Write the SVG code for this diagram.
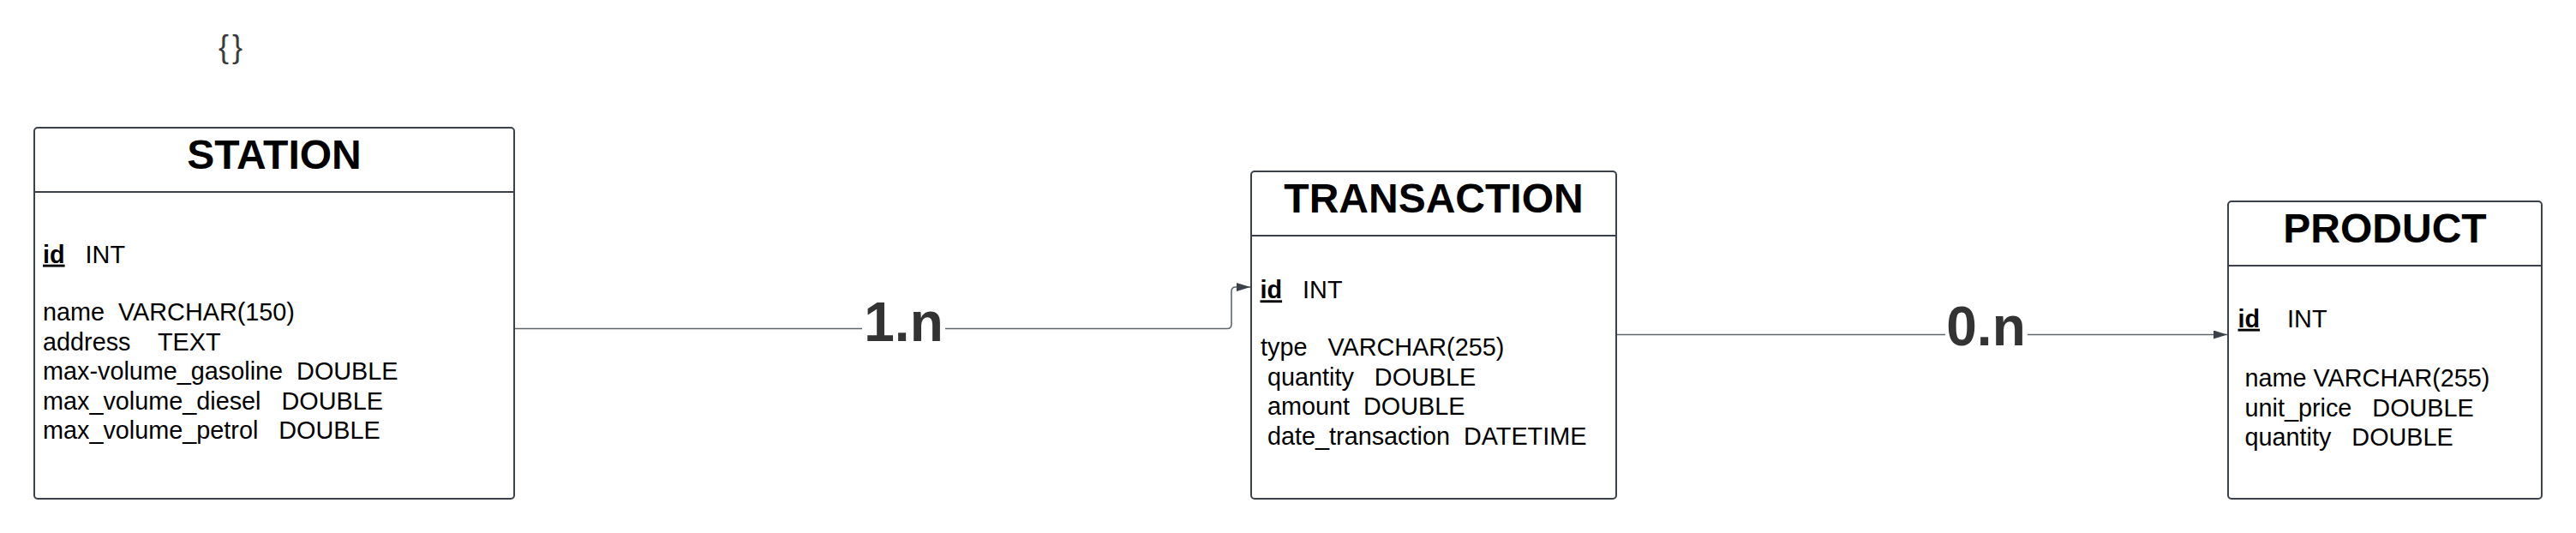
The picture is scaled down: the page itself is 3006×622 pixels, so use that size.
<svg xmlns="http://www.w3.org/2000/svg" width="3006" height="622" viewBox="0 0 3006 622">
  <style>
    .box { fill: #ffffff; stroke: #3a414a; stroke-width: 2; }
    .div { stroke: #3a414a; stroke-width: 2; }
    .title { font-family: "Liberation Sans", Arial, sans-serif; font-size: 48px; font-weight: bold; fill: #000000; text-anchor: middle; }
    .field { font-family: "Liberation Sans", Arial, sans-serif; font-size: 28.8px; fill: #000000; }
    .pk { font-weight: bold; text-decoration: underline; }
    .conn { fill: none; stroke: #5f656c; stroke-width: 1.6; }
    .card { font-family: "Liberation Sans", Arial, sans-serif; font-size: 64px; font-weight: bold; fill: #333333; text-anchor: middle; }
    .brace { font-family: "Liberation Sans", Arial, sans-serif; font-size: 36px; fill: #3a3a3a; }
  </style>
  <defs>
    <marker id="arrow" markerUnits="userSpaceOnUse" markerWidth="17" markerHeight="11" refX="16" refY="5" orient="auto">
      <path d="M0,0 L16,5 L0,10 z" fill="#3a414a"/>
    </marker>
  </defs>
  <rect width="3006" height="622" fill="#ffffff"/>

  <text class="brace" x="255" y="66.5" letter-spacing="4">{}</text>

  <g id="connectors">
    <path class="conn" d="M601,383.5 H1432 Q1437,383.5 1437,378.5 V340 Q1437,335 1442,335 H1459" marker-end="url(#arrow)"/>
    <path class="conn" d="M1887,390.5 H2599" marker-end="url(#arrow)"/>
    <rect x="1006" y="345" width="97" height="60" fill="#ffffff"/>
    <text class="card" x="1054.5" y="397.5">1.n</text>
    <rect x="2270" y="350" width="96" height="60" fill="#ffffff"/>
    <text class="card" x="2317.5" y="403.3">0.n</text>
  </g>

  <g id="station">
    <rect class="box" x="40" y="149" width="560" height="433" rx="4" ry="4"/>
    <line class="div" x1="40" y1="224" x2="600" y2="224"/>
    <text class="title" x="320" y="197">STATION</text>
    <text class="field" x="50" y="306.7" xml:space="preserve"><tspan class="pk">id</tspan>   INT</text>
    <text class="field" x="50" y="374" xml:space="preserve">name  VARCHAR(150)</text>
    <text class="field" x="50" y="408.6" xml:space="preserve">address    TEXT</text>
    <text class="field" x="50" y="443.2" xml:space="preserve">max-volume_gasoline  DOUBLE</text>
    <text class="field" x="50" y="477.8" xml:space="preserve">max_volume_diesel   DOUBLE</text>
    <text class="field" x="50" y="512.4" xml:space="preserve">max_volume_petrol   DOUBLE</text>
  </g>

  <g id="transaction">
    <rect class="box" x="1460" y="200" width="426" height="382" rx="4" ry="4"/>
    <line class="div" x1="1460" y1="275" x2="1886" y2="275"/>
    <text class="title" x="1673" y="247.7">TRANSACTION</text>
    <text class="field" x="1470.5" y="348.3" xml:space="preserve"><tspan class="pk">id</tspan>   INT</text>
    <text class="field" x="1471" y="415" xml:space="preserve">type   VARCHAR(255)</text>
    <text class="field" x="1471" y="449.6" xml:space="preserve"> quantity   DOUBLE</text>
    <text class="field" x="1471" y="484.2" xml:space="preserve"> amount  DOUBLE</text>
    <text class="field" x="1471" y="518.8" xml:space="preserve"> date_transaction  DATETIME</text>
  </g>

  <g id="product">
    <rect class="box" x="2600" y="235" width="366" height="347" rx="4" ry="4"/>
    <line class="div" x1="2600" y1="310" x2="2966" y2="310"/>
    <text class="title" x="2783" y="282.7">PRODUCT</text>
    <text class="field" x="2611.5" y="381.7" xml:space="preserve"><tspan class="pk">id</tspan>    INT</text>
    <text class="field" x="2611.5" y="451" xml:space="preserve"> name VARCHAR(255)</text>
    <text class="field" x="2611.5" y="485.7" xml:space="preserve"> unit_price   DOUBLE</text>
    <text class="field" x="2611.5" y="520" xml:space="preserve"> quantity   DOUBLE</text>
  </g>
</svg>
